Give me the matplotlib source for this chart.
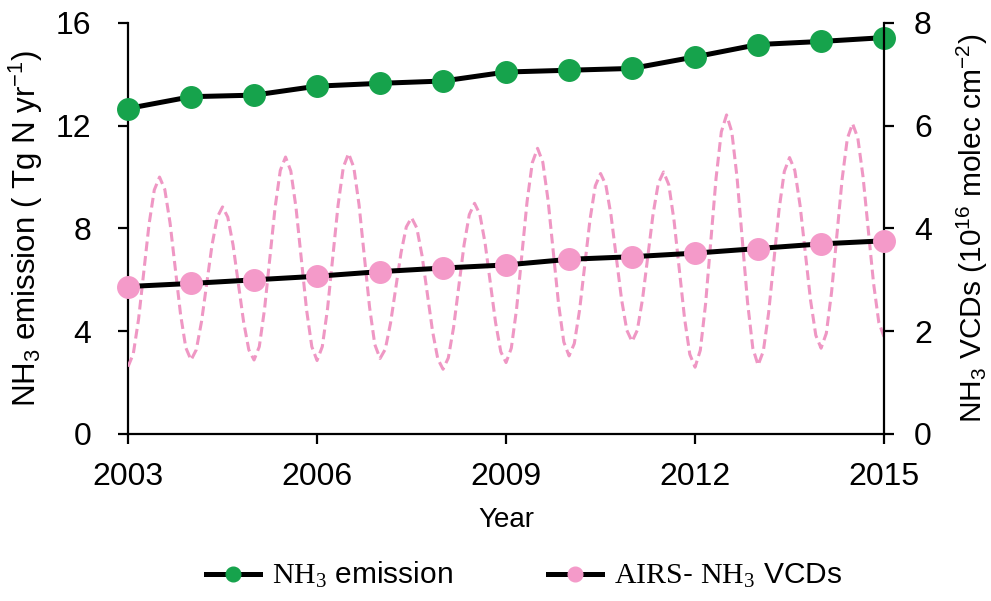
import numpy as np
import matplotlib
matplotlib.use('Agg')
import matplotlib.pyplot as plt

plt.rcParams['font.family'] = ['Liberation Sans', 'DejaVu Sans']
plt.rcParams['mathtext.fontset'] = 'custom'
plt.rcParams['mathtext.rm'] = 'Liberation Serif'
plt.rcParams['mathtext.sf'] = 'Liberation Sans'
plt.rcParams['mathtext.it'] = 'Liberation Sans:italic'
plt.rcParams['mathtext.bf'] = 'Liberation Sans:bold'
plt.rcParams['mathtext.default'] = 'sf'

# Annual values
years = np.arange(2003, 2016)
emission = [12.67, 13.13, 13.19, 13.54, 13.65, 13.74, 14.09,
            14.16, 14.23, 14.68, 15.16, 15.28, 15.43]           # Tg N / yr
vcd_annual = [2.87, 2.93, 3.00, 3.07, 3.16, 3.23, 3.29,
              3.40, 3.45, 3.52, 3.61, 3.70, 3.76]                # 1e16 molec/cm2

# Monthly AIRS VCDs, Jan 2003 .. Jan 2015
vcd_monthly = [
    1.31, 1.56, 2.23, 3.16, 4.08, 4.75, 5.00, 4.76, 4.11, 3.22, 2.33, 1.68,
    1.44, 1.64, 2.19, 2.93, 3.68, 4.22, 4.42, 4.22, 3.68, 2.93, 2.19, 1.64,
    1.44, 1.70, 2.43, 3.42, 4.40, 5.13, 5.39, 5.12, 4.40, 3.41, 2.42, 1.70,
    1.43, 1.70, 2.44, 3.45, 4.45, 5.19, 5.46, 5.19, 4.46, 3.47, 2.47, 1.74,
    1.47, 1.65, 2.16, 2.84, 3.53, 4.03, 4.21, 4.01, 3.47, 2.74, 2.00, 1.46,
    1.26, 1.48, 2.07, 2.88, 3.68, 4.27, 4.49, 4.28, 3.72, 2.94, 2.17, 1.60,
    1.39, 1.67, 2.43, 3.48, 4.52, 5.28, 5.56, 5.29, 4.55, 3.54, 2.53, 1.79,
    1.52, 1.76, 2.41, 3.30, 4.18, 4.83, 5.07, 4.85, 4.25, 3.44, 2.62, 2.02,
    1.80, 2.02, 2.63, 3.45, 4.28, 4.88, 5.10, 4.85, 4.15, 3.20, 2.25, 1.55,
    1.30, 1.63, 2.53, 3.76, 4.98, 5.88, 6.21, 5.88, 4.99, 3.78, 2.56, 1.67,
    1.34, 1.61, 2.35, 3.36, 4.37, 5.11, 5.38, 5.13, 4.45, 3.53, 2.60, 1.92,
    1.67, 1.96, 2.76, 3.86, 4.95, 5.75, 6.04, 5.76, 5.00, 3.97, 2.93, 2.17,
    1.89,
]
month_x = 2003 + np.arange(len(vcd_monthly)) / 12.0

green = '#16a34c'
pink = '#f49ac9'
dash_pink = '#ef97c4'

fig = plt.figure(figsize=(9.91, 6.01), dpi=100)
ax = fig.add_axes([0.1292, 0.2779, 0.7629, 0.6839])
ax2 = ax.twinx()

ax.plot(years, emission, color='black', lw=3.6, marker='o', ms=15.5,
        mfc=green, mec=green, clip_on=False, zorder=3,
        label=r'$\mathrm{NH_3}$ emission')

ax2.plot(month_x, vcd_monthly, color=dash_pink, lw=2.2, ls=(0, (3.2, 1.6)),
         zorder=1)
ax2.plot(years, vcd_annual, color='black', lw=3.6, marker='o', ms=15.5,
         mfc=pink, mec=pink, clip_on=False, zorder=3,
         label=r'$\mathrm{AIRS}$- $\mathrm{NH_3}$ VCDs')

ax.set_xlim(2003, 2015)
ax.set_ylim(0, 16)
ax2.set_ylim(0, 8)
ax.set_xticks([2003, 2006, 2009, 2012, 2015])
ax.set_yticks([0, 4, 8, 12, 16])
ax2.set_yticks([0, 2, 4, 6, 8])

for a in (ax, ax2):
    a.spines['top'].set_visible(False)
    for s in a.spines.values():
        s.set_linewidth(1.6)
ax.spines['right'].set_visible(False)
ax2.spines['left'].set_visible(False)
ax2.spines['bottom'].set_visible(False)

ax.tick_params(axis='y', direction='out', length=7.5, width=1.6,
               labelsize=23, pad=19)
ax.tick_params(axis='x', direction='out', length=7.5, width=1.6,
               labelsize=23, pad=13)
ax2.tick_params(axis='y', direction='out', length=7.5, width=1.6,
                labelsize=23, pad=14)

ax.set_ylabel(r'NH$_3$ emission ( Tg N yr$^{-1}$)', fontsize=22.5)
ax.yaxis.set_label_coords(-0.11, 0.5)
ax2.set_ylabel(r'NH$_3$ VCDs (10$^{16}$ molec cm$^{-2}$)', fontsize=21.5,
               rotation=90)
ax2.yaxis.set_label_coords(1.094, 0.5)
ax.set_xlabel('Year', fontsize=20)
ax.xaxis.set_label_coords(0.5, -0.178)

h1, l1 = ax.get_legend_handles_labels()
h2, l2 = ax2.get_legend_handles_labels()
fig.legend(h1 + h2, l1 + l2, loc='center', bbox_to_anchor=(0.529, 0.043),
           ncol=2, frameon=False, fontsize=21.5, handlelength=1.8,
           handletextpad=0.4, columnspacing=3.2, markerscale=0.68)

fig.savefig('out.png', dpi=100)
